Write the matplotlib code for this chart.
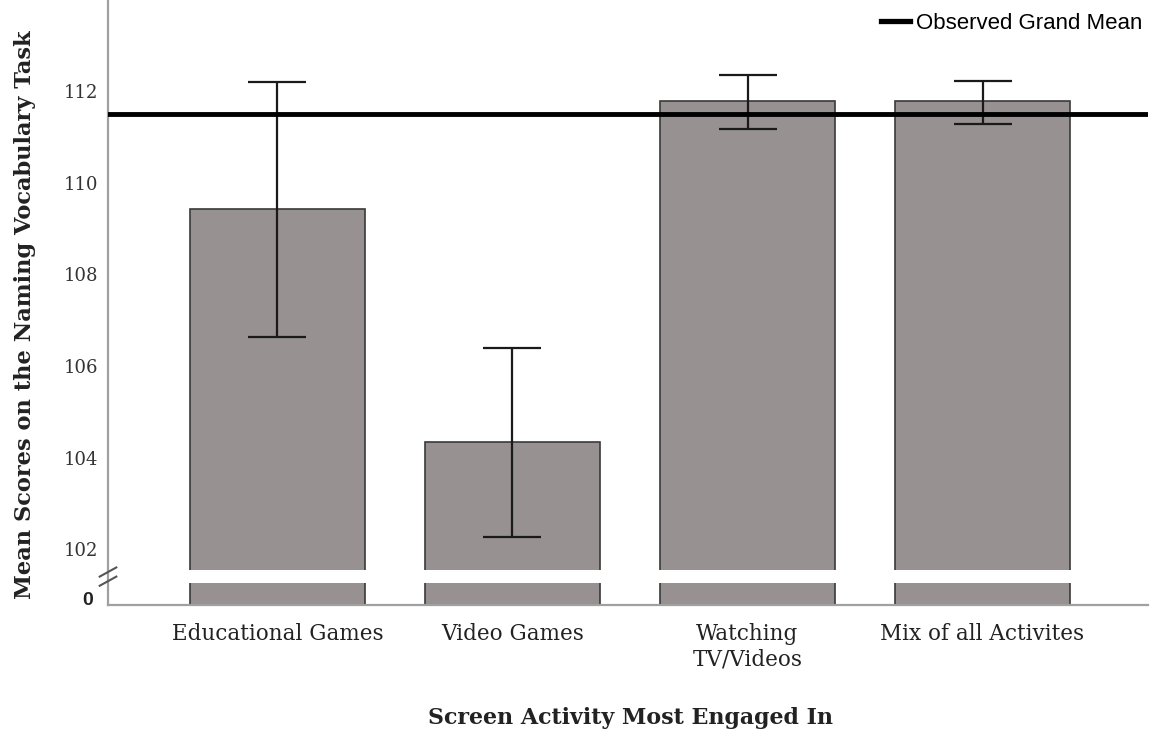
import matplotlib.pyplot as plt
import matplotlib.transforms as mtransforms
from matplotlib.lines import Line2D

# data
categories = ["Educational Games", "Video Games", "Watching\nTV/Videos", "Mix of all Activites"]
means = [109.42, 104.34, 111.78, 111.78]
ci_upper = [112.20, 106.39, 112.35, 112.22]
ci_lower = [106.63, 102.26, 111.17, 111.28]
grand_mean = 111.5
yticks = [102, 104, 106, 108, 110, 112]

serif = "DejaVu Serif"
sans = "Liberation Sans"

fig = plt.figure(figsize=(11.56, 7.33), dpi=100)
ax = fig.add_axes([108 / 1156, 1 - 605 / 733, 1040 / 1156, 605 / 733])

x = list(range(len(categories)))
yerr = [[m - lo for m, lo in zip(means, ci_lower)],
        [hi - m for m, hi in zip(means, ci_upper)]]

ax.bar(x, means, width=0.745, color="#979191", edgecolor="#3a3a3a", linewidth=1.2, zorder=2)
ax.errorbar(x, means, yerr=yerr, fmt="none", ecolor="#1a1a1a", elinewidth=1.6,
            capsize=21, capthick=1.6, zorder=4)
ax.axhline(grand_mean, color="black", linewidth=3.5, zorder=5)

ax.set_xlim(-0.721, 3.704)
ax.set_ylim(100.78, 113.99)

# axis break: white band over the bars plus // on the spine
ax.axhspan(101.26, 101.54, xmin=0.004, xmax=1, color="white", zorder=3, lw=0)
trans = mtransforms.blended_transform_factory(ax.transAxes, ax.transData)
for yy in (101.30, 101.50):
    ax.plot([-0.008, 0.008], [yy - 0.1, yy + 0.1], color="#555555", lw=1.5,
            transform=trans, clip_on=False, zorder=6)

ax.set_yticks(yticks)
ax.set_yticklabels([str(t) for t in yticks], fontfamily=serif, fontsize=13, color="#333333")
ax.text(-0.014, 100.88, "0", transform=trans, ha="right", va="center",
        fontfamily=sans, fontsize=14, fontweight="bold", color="#222222")
ax.tick_params(axis="y", length=0, pad=7)

ax.set_xticks(x)
ax.set_xticklabels(categories, fontfamily=serif, fontsize=15.5, color="#222222", linespacing=1.2)
ax.tick_params(axis="x", length=0, pad=13)

for side in ("top", "right"):
    ax.spines[side].set_visible(False)
for side in ("left", "bottom"):
    ax.spines[side].set_color("#a0a0a0")
    ax.spines[side].set_linewidth(1.6)

fig.text(25 / 1156, 1 - 315 / 733, "Mean Scores on the Naming Vocabulary Task", rotation=90,
         ha="center", va="center", fontfamily=serif, fontweight="bold", fontsize=16.2, color="#222222")
fig.text(630 / 1156, 1 - 718 / 733, "Screen Activity Most Engaged In", ha="center", va="center",
         fontfamily=serif, fontweight="bold", fontsize=15.9, color="#222222")

handle = Line2D([], [], color="black", linewidth=3.8)
ax.legend([handle], ["Observed Grand Mean"], loc="upper right", bbox_to_anchor=(1.014, 1.012),
          frameon=False, handlelength=1.3, handletextpad=0.3,
          prop={"family": sans, "size": 16})

fig.savefig("out.png", dpi=100)
